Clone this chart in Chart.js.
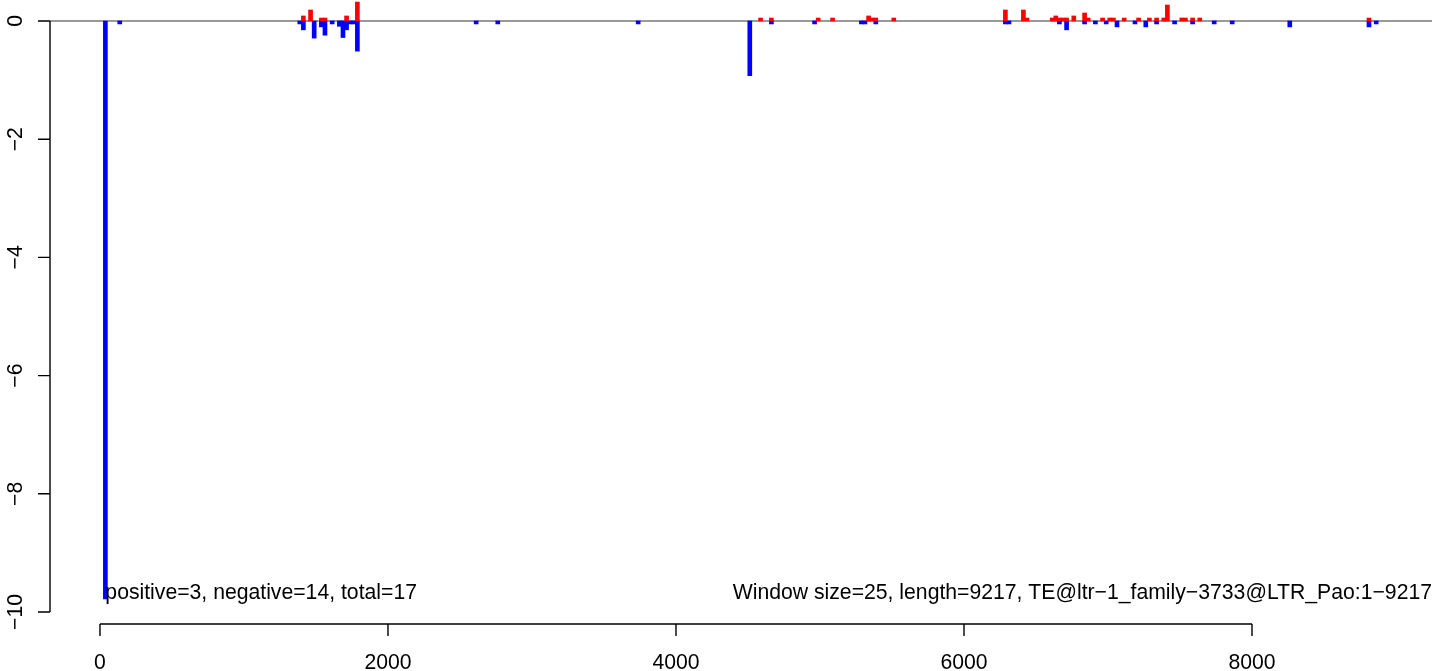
<!DOCTYPE html>
<html>
<head>
<meta charset="utf-8">
<script src="https://cdn.jsdelivr.net/npm/chart.js@4"></script>
<style>
  html, body { margin: 0; padding: 0; background: #fff; }
  #wrap { width: 1444px; height: 671px; }
</style>
</head>
<body>
<div id="wrap"><canvas id="chart" width="1444" height="671"></canvas></div>
<script>
// window positions (bp) and scores, minus strand
const negPos = [37.5, 137.5, 1387.5, 1412.5, 1487.5, 1537.5, 1562.5, 1612.5, 1662.5, 1687.5,
  1712.5, 1737.5, 1762.5, 1787.5, 2612.5, 2762.5, 3737.5, 4512.5, 4662.5, 4962.5,
  5287.5, 5312.5, 5387.5, 6287.5, 6312.5, 6662.5, 6712.5, 6837.5, 6912.5, 6987.5,
  7062.5, 7187.5, 7262.5, 7337.5, 7462.5, 7587.5, 7737.5, 7862.5, 8262.5, 8812.5, 8862.5];
const negVal = [-9.78, -0.05, -0.05, -0.15, -0.29, -0.10, -0.24, -0.05, -0.09, -0.28,
  -0.15, -0.05, -0.05, -0.51, -0.05, -0.05, -0.05, -0.925, -0.05, -0.05,
  -0.05, -0.05, -0.05, -0.05, -0.05, -0.05, -0.15, -0.05, -0.05, -0.05,
  -0.10, -0.05, -0.10, -0.05, -0.05, -0.05, -0.05, -0.05, -0.10, -0.10, -0.05];

// plus strand
const posPos = [1412.5, 1462.5, 1537.5, 1562.5, 1712.5, 1787.5, 4587.5, 4662.5, 4987.5, 5087.5,
  5337.5, 5362.5, 5387.5, 5512.5, 6287.5, 6412.5, 6437.5, 6612.5, 6637.5, 6662.5,
  6687.5, 6712.5, 6762.5, 6837.5, 6862.5, 6962.5, 7012.5, 7037.5, 7112.5, 7212.5,
  7287.5, 7337.5, 7387.5, 7412.5, 7512.5, 7537.5, 7587.5, 7637.5, 8812.5];
const posVal = [0.085, 0.186, 0.05, 0.05, 0.085, 0.32, 0.05, 0.05, 0.05, 0.05,
  0.085, 0.05, 0.05, 0.05, 0.186, 0.186, 0.05, 0.05, 0.085, 0.05,
  0.05, 0.05, 0.085, 0.135, 0.05, 0.05, 0.05, 0.05, 0.05, 0.05,
  0.05, 0.05, 0.05, 0.27, 0.05, 0.05, 0.05, 0.05, 0.05];

const xTicks = [0, 2000, 4000, 6000, 8000];
const yTicks = [0, -2, -4, -6, -8, -10];

const leftNote = "positive=3, negative=14, total=17";
const rightNote = "Window size=25, length=9217, TE@ltr\u22121_family\u22123733@LTR_Pao:1\u22129217";

const FONT = '21.2px "Liberation Sans", Arial, Helvetica, sans-serif';
const minus = s => String(s).replace("-", "\u2212");

// base-graphics style axes, zero line and notes
const rAxes = {
  id: "rAxes",
  beforeDatasetsDraw(chart) {
    const { ctx, chartArea: a, scales: { y } } = chart;
    ctx.save();
    ctx.strokeStyle = "#9a9a9a";
    ctx.lineWidth = 2;
    ctx.beginPath();
    ctx.moveTo(a.left, y.getPixelForValue(0));
    ctx.lineTo(a.right, y.getPixelForValue(0));
    ctx.stroke();
    ctx.restore();
  },
  afterDraw(chart) {
    const { ctx, chartArea: a, scales: { x, y } } = chart;
    ctx.save();
    ctx.strokeStyle = "#000";
    ctx.fillStyle = "#000";
    ctx.lineWidth = 1.4;
    ctx.font = FONT;

    // x axis
    const xb = a.bottom + 1;
    ctx.beginPath();
    ctx.moveTo(x.getPixelForValue(xTicks[0]), xb);
    ctx.lineTo(x.getPixelForValue(xTicks[xTicks.length - 1]), xb);
    xTicks.forEach(t => {
      const px = x.getPixelForValue(t);
      ctx.moveTo(px, xb);
      ctx.lineTo(px, xb + 12);
    });
    ctx.stroke();
    ctx.textAlign = "center";
    ctx.textBaseline = "alphabetic";
    xTicks.forEach(t => ctx.fillText(String(t), x.getPixelForValue(t), 669));

    // y axis
    const yl = a.left;
    ctx.beginPath();
    ctx.moveTo(yl, y.getPixelForValue(yTicks[0]));
    ctx.lineTo(yl, y.getPixelForValue(yTicks[yTicks.length - 1]));
    yTicks.forEach(t => {
      const py = y.getPixelForValue(t);
      ctx.moveTo(yl, py);
      ctx.lineTo(yl - 12, py);
    });
    ctx.stroke();
    yTicks.forEach(t => {
      ctx.save();
      ctx.translate(22, y.getPixelForValue(t));
      ctx.rotate(-Math.PI / 2);
      ctx.textAlign = "center";
      ctx.fillText(minus(t), 0, 0);
      ctx.restore();
    });

    // notes along the bottom of the plot
    const ny = y.getPixelForValue(Math.min(...negVal));
    ctx.textAlign = "left";
    ctx.fillText(leftNote, x.getPixelForValue(negPos[0]), ny);
    ctx.textAlign = "right";
    ctx.fillText(rightNote, a.right, ny);
    ctx.restore();
  }
};

new Chart(document.getElementById("chart"), {
  type: "bar",
  data: {
    datasets: [
      {
        data: posPos.map((p, i) => ({ x: p, y: posVal[i] })),
        backgroundColor: "#ff0000",
        barThickness: 4,
        grouped: false,
        borderWidth: 0
      },
      {
        data: negPos.map((p, i) => ({ x: p, y: negVal[i] })),
        backgroundColor: "#0000ff",
        barThickness: 4,
        grouped: false,
        borderWidth: 0
      }
    ]
  },
  options: {
    responsive: false,
    animation: false,
    devicePixelRatio: 1,
    layout: { padding: { left: 50, right: 12, top: 0, bottom: 48 } },
    plugins: { legend: { display: false }, tooltip: { enabled: false } },
    scales: {
      x: { type: "linear", min: -347, max: 9250, offset: false, display: false },
      y: { type: "linear", min: -10.186, max: 0.355, display: false }
    }
  },
  plugins: [rAxes]
});
</script>
</body>
</html>
